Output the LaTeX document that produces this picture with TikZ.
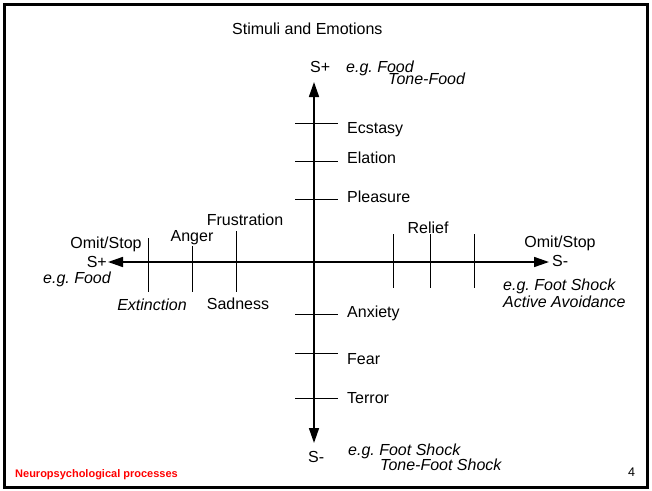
\documentclass[tikz,border=0pt]{standalone}
\usepackage{fontspec}
\setmainfont{Liberation Sans}
\usetikzlibrary{arrows.meta}
\begin{document}
\frenchspacing
\begin{tikzpicture}[x=1pt,y=-1pt,
  lbl/.style={inner sep=0pt,font=\fontsize{16}{18}\selectfont},
  ital/.style={lbl,font=\fontsize{16}{18}\selectfont\itshape},
  axis/.style={line width=1.6pt,{Triangle[length=15pt,width=10pt]}-{Triangle[length=15pt,width=10pt]}},
  tick/.style={line width=0.9pt}]
\useasboundingbox (0,0) rectangle (652,490);
\draw[line width=2.6pt] (4.5,4.5) rectangle (647.5,487.5);
% axes
\coordinate (top) at (314,82);
\coordinate (bot) at (314,443);
\coordinate (lft) at (108,262);
\coordinate (rgt) at (549,262);
\draw[axis] (top) -- (bot);
\draw[axis] (lft) -- (rgt);
% horizontal ticks on vertical axis
\foreach \y in {123,161,199,314,353,398}{
  \draw[tick] (295,\y) -- (338,\y);}
% vertical ticks on horizontal axis
\draw[tick] (148,238) -- (148,292);
\draw[tick] (192,246) -- (192,292);
\draw[tick] (236,231) -- (236,292);
\draw[tick] (393,234) -- (393,288);
\draw[tick] (430,234) -- (430,288);
\draw[tick] (474,234) -- (474,288);
% title
\node[lbl,anchor=base west] (title) at (232,34) {Stimuli and Emotions};
% top labels
\node[lbl,anchor=base west] (splus) at (310,72) {S+};
\node[ital,anchor=base west] (egfood) at (346,72) {e.g. Food};
\node[ital,anchor=base west] (tonefood) at (388,84) {Tone-Food};
% vertical axis labels
\node[lbl,anchor=base west] (ecstasy) at (347,133) {Ecstasy};
\node[lbl,anchor=base west] (elation) at (347,163) {Elation};
\node[lbl,anchor=base west] (pleasure) at (347,202) {Pleasure};
\node[lbl,anchor=base west] (anxiety) at (347,317) {Anxiety};
\node[lbl,anchor=base west] (fear) at (347,364) {Fear};
\node[lbl,anchor=base west] (terror) at (347,403) {Terror};
% left labels
\node[lbl,anchor=base] (omitL) at (106,248) {Omit/Stop};
\node[lbl,anchor=base east] (splusL) at (107,267) {S+};
\node[ital,anchor=base] (egfoodL) at (77,283) {e.g. Food};
\node[lbl,anchor=base] (anger) at (192,241) {Anger};
\node[lbl,anchor=base] (frust) at (245,225) {Frustration};
\node[ital,anchor=base] (ext) at (152,310) {Extinction};
\node[lbl,anchor=base] (sad) at (238,309) {Sadness};
% right labels
\node[lbl,anchor=base] (relief) at (428,233) {Relief};
\node[lbl,anchor=base] (omitR) at (560,247) {Omit/Stop};
\node[lbl,anchor=base west] (sminusR) at (552,266) {S-};
\node[ital,anchor=base west] (egshockR) at (503,290) {e.g. Foot Shock};
\node[ital,anchor=base west] (avoid) at (503,307) {Active Avoidance};
% bottom labels
\node[lbl,anchor=base west] (sminus) at (308,462) {S-};
\node[ital,anchor=base west] (egshock) at (348,455) {e.g. Foot Shock};
\node[ital,anchor=base west] (toneshock) at (380,470) {Tone-Foot Shock};
% footer
\node[inner sep=0pt,anchor=base west,text=red,font=\fontsize{11}{12}\selectfont\bfseries] (foot) at (15,477) {Neuropsychological processes};
\node[inner sep=0pt,anchor=base west,font=\fontsize{12.5}{14}\selectfont] (page) at (628,476) {4};
\end{tikzpicture}
\end{document}
